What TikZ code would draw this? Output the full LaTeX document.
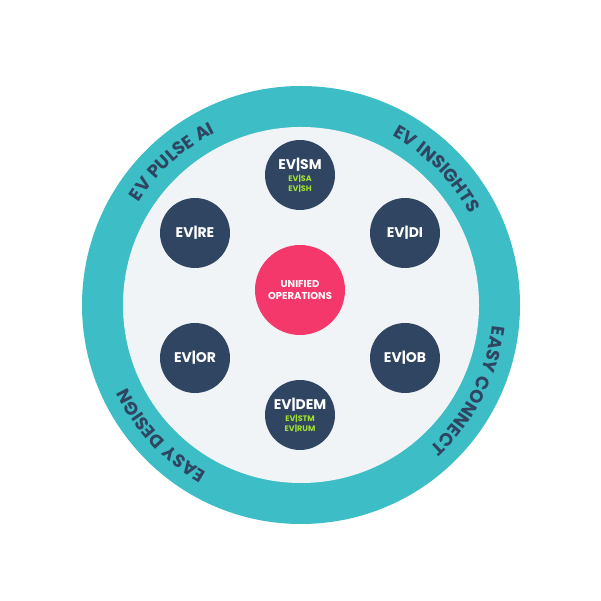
\documentclass[tikz,border=0pt]{standalone}
\usepackage{fontspec}
\setmainfont{Poppins}[UprightFont=* Bold,BoldFont=* Bold]
\usetikzlibrary{decorations.text}
\definecolor{teal}{HTML}{3DBEC6}
\definecolor{navy}{HTML}{2F4562}
\definecolor{pinkc}{HTML}{F5386C}
\definecolor{lightc}{HTML}{F1F4F7}
\definecolor{greenc}{HTML}{A2E22E}
\newfontfamily\ringfont{Poppins Bold}[LetterSpace=6]
\begin{document}
\begin{tikzpicture}[x=1pt,y=1pt,
  mod/.style={circle,fill=navy,minimum size=70pt,inner sep=0pt,text=white,font=\fontsize{14}{15}\selectfont,align=center},
  ring/.style={decorate,decoration={text along path,text align=center,text color=navy,text={|\fontsize{18}{18}\ringfont|#1}}}]
\useasboundingbox (0,0) rectangle (601,601);
\coordinate (c) at (301,296);
\fill[teal] (c) circle[radius=219];
\fill[lightc] (c) circle[radius=178];
\node[circle,fill=pinkc,minimum size=90pt,inner sep=0pt,text=white,align=center,font=\fontsize{10}{12}\selectfont] (uo) at (300,311) {UNIFIED\\OPERATIONS};
\node[mod] (sm) at (300,426) {EV|SM\\[-3pt]{\fontsize{8}{8.5}\selectfont\color{greenc}EV|SA}\\[-5pt]{\fontsize{8}{8.5}\selectfont\color{greenc}EV|SH}};
\node[mod] (di) at (405,368) {EV|DI};
\node[mod] (ob) at (405,243) {EV|OB};
\node[mod] (dem) at (300,186) {EV|DEM\\[-3pt]{\fontsize{8}{8.5}\selectfont\color{greenc}EV|STM}\\[-5pt]{\fontsize{8}{8.5}\selectfont\color{greenc}EV|RUM}};
\node[mod] (or) at (195,243) {EV|OR};
\node[mod] (re) at (195,368) {EV|RE};
\path[ring={EV PULSE AI}] (c) ++(175:192) arc[start angle=175,end angle=89,radius=192];
\path[ring={EV INSIGHTS}] (c) ++(88:192) arc[start angle=88,end angle=2,radius=192];
\path[ring={EASY CONNECT}] (c) ++(16:192) arc[start angle=16,end angle=-70,radius=192];
\path[ring={EASY DESIGN}] (c) ++(-94:192) arc[start angle=-94,end angle=-180,radius=192];
\end{tikzpicture}
\end{document}
